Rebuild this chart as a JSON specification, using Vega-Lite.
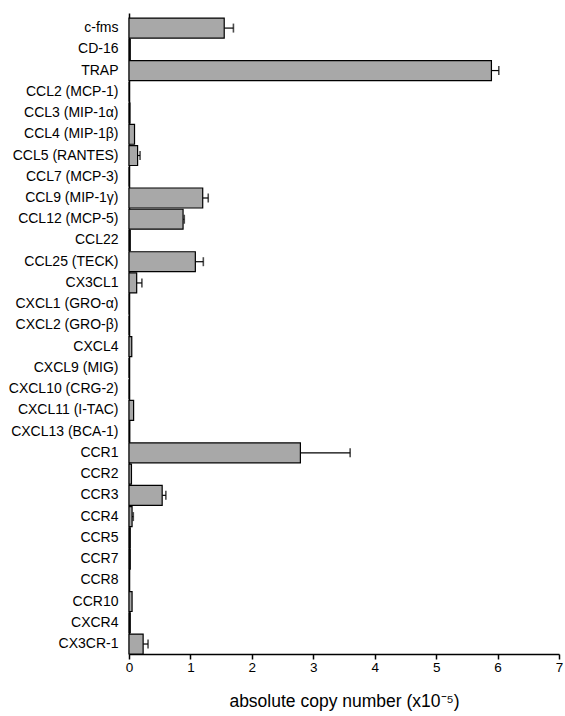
{
  "$schema": "https://vega.github.io/schema/vega-lite/v6.json",
  "width": 430,
  "height": 641,
  "autosize": {"type": "none"},
  "padding": {"left": 129, "top": 13, "right": 6, "bottom": 62},
  "background": "white",
  "config": {
    "view": {"stroke": null},
    "font": "Liberation Sans"
  },
  "data": {
    "values": [
      {"gene": "c-fms", "value": 1.55, "err": 1.70},
      {"gene": "CD-16", "value": 0.02, "err": null},
      {"gene": "TRAP", "value": 5.90, "err": 6.02},
      {"gene": "CCL2 (MCP-1)", "value": 0.0, "err": null},
      {"gene": "CCL3 (MIP-1α)", "value": 0.015, "err": null},
      {"gene": "CCL4 (MIP-1β)", "value": 0.09, "err": null},
      {"gene": "CCL5 (RANTES)", "value": 0.14, "err": 0.18},
      {"gene": "CCL7 (MCP-3)", "value": 0.0, "err": null},
      {"gene": "CCL9 (MIP-1γ)", "value": 1.20, "err": 1.29},
      {"gene": "CCL12 (MCP-5)", "value": 0.88, "err": 0.90},
      {"gene": "CCL22", "value": 0.02, "err": null},
      {"gene": "CCL25 (TECK)", "value": 1.08, "err": 1.21},
      {"gene": "CX3CL1", "value": 0.125, "err": 0.21},
      {"gene": "CXCL1 (GRO-α)", "value": 0.005, "err": null},
      {"gene": "CXCL2 (GRO-β)", "value": 0.0, "err": null},
      {"gene": "CXCL4", "value": 0.045, "err": null},
      {"gene": "CXCL9 (MIG)", "value": 0.0, "err": null},
      {"gene": "CXCL10 (CRG-2)", "value": 0.0, "err": null},
      {"gene": "CXCL11 (I-TAC)", "value": 0.075, "err": null},
      {"gene": "CXCL13 (BCA-1)", "value": 0.01, "err": null},
      {"gene": "CCR1", "value": 2.79, "err": 3.60},
      {"gene": "CCR2", "value": 0.04, "err": null},
      {"gene": "CCR3", "value": 0.54, "err": 0.60},
      {"gene": "CCR4", "value": 0.05, "err": 0.07},
      {"gene": "CCR5", "value": 0.02, "err": null},
      {"gene": "CCR7", "value": 0.02, "err": null},
      {"gene": "CCR8", "value": 0.005, "err": null},
      {"gene": "CCR10", "value": 0.05, "err": null},
      {"gene": "CXCR4", "value": 0.02, "err": null},
      {"gene": "CX3CR-1", "value": 0.23, "err": 0.31}
    ]
  },
  "encoding": {
    "y": {
      "field": "gene",
      "type": "nominal",
      "sort": ["c-fms", "CD-16", "TRAP", "CCL2 (MCP-1)", "CCL3 (MIP-1α)", "CCL4 (MIP-1β)", "CCL5 (RANTES)", "CCL7 (MCP-3)", "CCL9 (MIP-1γ)", "CCL12 (MCP-5)", "CCL22", "CCL25 (TECK)", "CX3CL1", "CXCL1 (GRO-α)", "CXCL2 (GRO-β)", "CXCL4", "CXCL9 (MIG)", "CXCL10 (CRG-2)", "CXCL11 (I-TAC)", "CXCL13 (BCA-1)", "CCR1", "CCR2", "CCR3", "CCR4", "CCR5", "CCR7", "CCR8", "CCR10", "CXCR4", "CX3CR-1"],
      "scale": {"paddingInner": 0.06, "paddingOuter": 0.12, "align": 1},
      "axis": {
        "title": null,
        "ticks": false,
        "labelPadding": 11,
        "labelFontSize": 14,
        "labelColor": "#000",
        "domainColor": "#000",
        "domainWidth": 1.5,
        "labelLimit": 200
      }
    }
  },
  "layer": [
    {
      "transform": [{"filter": "datum.err != null"}],
      "mark": {"type": "rule", "color": "#000", "strokeWidth": 1.2},
      "encoding": {
        "x": {"field": "value", "type": "quantitative"},
        "x2": {"field": "err"}
      }
    },
    {
      "transform": [{"filter": "datum.err != null"}],
      "mark": {"type": "tick", "color": "#000", "thickness": 1.6, "size": 9, "orient": "vertical"},
      "encoding": {
        "x": {"field": "err", "type": "quantitative"}
      }
    },
    {
      "mark": {"type": "bar", "fill": "#a8a8a8", "stroke": "#000", "strokeWidth": 1.2},
      "encoding": {
        "x": {
          "field": "value",
          "type": "quantitative",
          "scale": {"domain": [0, 7], "nice": false, "zero": true},
          "axis": {
            "title": "absolute copy number (x10⁻⁵)",
            "titleFontSize": 17.5,
            "titleFontWeight": "normal",
            "titleColor": "#000",
            "titlePadding": 19,
            "values": [0, 1, 2, 3, 4, 5, 6, 7],
            "format": "d",
            "grid": false,
            "labelFontSize": 13.5,
            "labelColor": "#000",
            "labelPadding": 1,
            "tickColor": "#000",
            "tickSize": 5,
            "tickWidth": 1.5,
            "domainColor": "#000",
            "domainWidth": 1.5,
            "labelFlush": false
          }
        }
      }
    }
  ]
}
